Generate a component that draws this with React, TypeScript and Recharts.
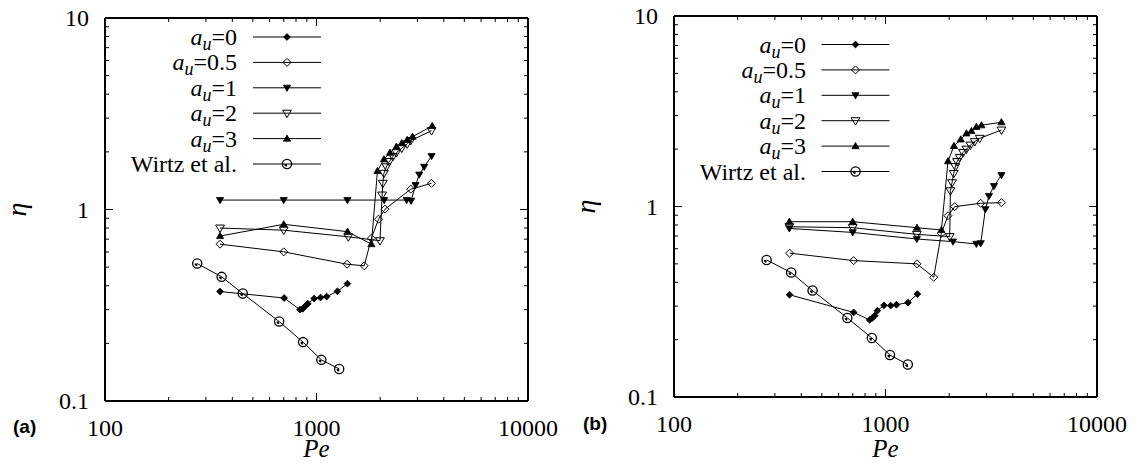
import React from 'react';
import { LineChart, Line, XAxis, YAxis, Legend } from 'recharts';

const SERIF = '"Liberation Serif", "Times New Roman", serif';
const SANS = '"Liberation Sans", Arial, sans-serif';

// ---- ticks ----
const X_TICKS = [100, 200, 300, 400, 500, 600, 700, 800, 900, 1000, 2000, 3000, 4000, 5000, 6000, 7000, 8000, 9000, 10000];
const Y_TICKS = [0.1, 0.2, 0.3, 0.4, 0.5, 0.6, 0.7, 0.8, 0.9, 1, 2, 3, 4, 5, 6, 7, 8, 9, 10];
const X_MAJOR = [100, 1000, 10000];
const X_MAJOR_LABELS = ['100', '1000', '10000'];
const Y_MAJOR = [0.1, 1, 10];
const Y_MAJOR_LABELS = ['0.1', '1', '10'];

// ---- series names ----
const NAMES = ['a_u=0', 'a_u=0.5', 'a_u=1', 'a_u=2', 'a_u=3', 'Wirtz et al.'];
const KINDS = ['dfill', 'dopen', 'tdown', 'tdownopen', 'tup', 'circ'];

// ---- panel (a) data ----
const A_AU0_PE = [350, 703, 835, 860, 885, 910, 975, 1045, 1117, 1256, 1400];
const A_AU0_ETA = [0.373, 0.345, 0.3, 0.303, 0.313, 0.322, 0.343, 0.347, 0.351, 0.374, 0.41];
const A_AU05_PE = [350, 700, 1395, 1682, 1818, 1965, 2108, 2790, 3496];
const A_AU05_ETA = [0.659, 0.601, 0.518, 0.508, 0.708, 0.89, 1.004, 1.277, 1.37];
const A_AU1_PE = [350, 700, 1400, 2090, 2670, 2800, 2940, 3060, 3230, 3500];
const A_AU1_ETA = [1.12, 1.12, 1.12, 1.12, 1.12, 1.11, 1.34, 1.52, 1.67, 1.9];
const A_AU2_PE = [350, 700, 1414, 1996, 2043, 2059, 2084, 2141, 2209, 2296, 2387, 2531, 2684, 2789, 3498];
const A_AU2_ETA = [0.8, 0.78, 0.72, 0.687, 1.19, 1.37, 1.545, 1.67, 1.78, 1.89, 1.98, 2.09, 2.2, 2.29, 2.58];
const A_AU3_PE = [350, 700, 1402, 1818, 1942, 2084, 2226, 2387, 2531, 2684, 2844, 3524];
const A_AU3_ETA = [0.727, 0.837, 0.766, 0.66, 1.59, 1.83, 1.98, 2.13, 2.22, 2.31, 2.4, 2.73];
const A_WIRTZ_PE = [273, 356, 448, 666, 864, 1054, 1280];
const A_WIRTZ_ETA = [0.522, 0.445, 0.364, 0.26, 0.203, 0.164, 0.147];

// ---- panel (b) data ----
const B_AU0_PE = [352, 707, 842, 867, 889, 915, 984, 1058, 1126, 1278, 1415];
const B_AU0_ETA = [0.344, 0.278, 0.254, 0.26, 0.267, 0.284, 0.303, 0.302, 0.305, 0.313, 0.347];
const B_AU05_PE = [352, 707, 1409, 1690, 1837, 1975, 2124, 2818, 3532];
const B_AU05_ETA = [0.569, 0.52, 0.5, 0.425, 0.723, 0.895, 0.998, 1.04, 1.047];
const B_AU1_PE = [351, 700, 1407, 2085, 2690, 2820, 2967, 3085, 3258, 3532];
const B_AU1_ETA = [0.767, 0.731, 0.675, 0.654, 0.636, 0.641, 0.967, 1.135, 1.28, 1.46];
const B_AU2_PE = [351, 700, 1407, 2012, 2027, 2063, 2101, 2139, 2178, 2244, 2326, 2413, 2520, 2641, 2789, 3532];
const B_AU2_ETA = [0.783, 0.774, 0.714, 0.695, 1.21, 1.333, 1.49, 1.62, 1.72, 1.81, 1.92, 2.0, 2.1, 2.19, 2.28, 2.52];
const B_AU3_PE = [351, 700, 1409, 1838, 1975, 2108, 2268, 2413, 2547, 2690, 2841, 3532];
const B_AU3_ETA = [0.832, 0.832, 0.774, 0.753, 1.73, 2.08, 2.25, 2.42, 2.49, 2.62, 2.67, 2.77];
const B_WIRTZ_PE = [274, 358, 452, 660, 862, 1050, 1275];
const B_WIRTZ_ETA = [0.524, 0.45, 0.362, 0.26, 0.204, 0.166, 0.148];

type Pt = { pe: number; eta: number };
const zip = (pe: number[], eta: number[]): Pt[] => pe.map((p, i) => ({ pe: p, eta: eta[i] }));

const A_SERIES = [
  zip(A_AU0_PE, A_AU0_ETA),
  zip(A_AU05_PE, A_AU05_ETA),
  zip(A_AU1_PE, A_AU1_ETA),
  zip(A_AU2_PE, A_AU2_ETA),
  zip(A_AU3_PE, A_AU3_ETA),
  zip(A_WIRTZ_PE, A_WIRTZ_ETA),
];
const B_SERIES = [
  zip(B_AU0_PE, B_AU0_ETA),
  zip(B_AU05_PE, B_AU05_ETA),
  zip(B_AU1_PE, B_AU1_ETA),
  zip(B_AU2_PE, B_AU2_ETA),
  zip(B_AU3_PE, B_AU3_ETA),
  zip(B_WIRTZ_PE, B_WIRTZ_ETA),
];

const PANELS = [
  {
    tag: '(a)', left: 0, width: 560,
    margin: { top: 8, right: 22, bottom: 25, left: 45 },
    legendTop: 37, legendStep: 25.4, legendTextX: 237, legendX1: 253, legendX2: 321,
    tagDy: 32, peDy: 56, series: A_SERIES,
  },
  {
    tag: '(b)', left: 570, width: 568,
    margin: { top: 6, right: 31, bottom: 29, left: 44 },
    legendTop: 44.5, legendStep: 25.4, legendTextX: 236, legendX1: 251.5, legendX2: 319.5,
    tagDy: 33, peDy: 60, series: B_SERIES,
  },
];

function Marker({ kind, cx, cy }: { kind: string; cx: number; cy: number }) {
  if (cx == null || cy == null || isNaN(cx) || isNaN(cy)) return null;
  const s = '#000';
  switch (kind) {
    case 'dfill': {
      const h = 3.4;
      return <polygon points={`${cx},${cy - h} ${cx + h},${cy} ${cx},${cy + h} ${cx - h},${cy}`} fill={s} stroke={s} strokeWidth={0.8} />;
    }
    case 'dopen': {
      const h = 4;
      return <polygon points={`${cx},${cy - h} ${cx + h},${cy} ${cx},${cy + h} ${cx - h},${cy}`} fill="none" stroke={s} strokeWidth={1} />;
    }
    case 'tdown': {
      return <polygon points={`${cx - 3.6},${cy - 2.6} ${cx + 3.6},${cy - 2.6} ${cx},${cy + 3.6}`} fill={s} stroke={s} strokeWidth={0.8} />;
    }
    case 'tdownopen': {
      return <polygon points={`${cx - 4.4},${cy - 3} ${cx + 4.4},${cy - 3} ${cx},${cy + 4.4}`} fill="none" stroke={s} strokeWidth={1} />;
    }
    case 'tup': {
      return <polygon points={`${cx - 3.6},${cy + 2.6} ${cx + 3.6},${cy + 2.6} ${cx},${cy - 3.6}`} fill={s} stroke={s} strokeWidth={0.8} />;
    }
    case 'circ': {
      const r = 4.6;
      const r2 = 2.6;
      return (
        <g>
          <circle cx={cx} cy={cy} r={r} fill="none" stroke={s} strokeWidth={1.3} />
          <path d={`M${cx},${cy} L${cx - r2},${cy} A${r2},${r2} 0 0,0 ${cx},${cy + r2} Z`} fill={s} />
        </g>
      );
    }
    default:
      return null;
  }
}

const majorLabel = (v: number, majors: number[], labels: string[]) => {
  const i = majors.findIndex((m) => Math.abs(m - v) / m < 1e-6);
  return i >= 0 ? labels[i] : null;
};

function renderTick(side: 'bottom' | 'top' | 'left' | 'right', props: any) {
  const { x, y, payload } = props;
  const v = payload.value;
  const isX = side === 'bottom' || side === 'top';
  const lab = isX ? majorLabel(v, X_MAJOR, X_MAJOR_LABELS) : majorLabel(v, Y_MAJOR, Y_MAJOR_LABELS);
  const len = lab != null ? 8 : 4;
  let line;
  if (side === 'bottom') line = <line x1={x} x2={x} y1={y} y2={y - len} stroke="#000" strokeWidth={1} />;
  else if (side === 'top') line = <line x1={x} x2={x} y1={y} y2={y + len} stroke="#000" strokeWidth={1} />;
  else if (side === 'left') line = <line x1={x} x2={x + len} y1={y} y2={y} stroke="#000" strokeWidth={1} />;
  else line = <line x1={x} x2={x - len} y1={y} y2={y} stroke="#000" strokeWidth={1} />;
  let text = null;
  if (lab != null && side === 'bottom') {
    text = <text x={x} y={y + 34.5} textAnchor="middle" fontFamily={SERIF} fontSize={24} fill="#000">{lab}</text>;
  } else if (lab != null && side === 'left') {
    text = <text x={x - 16} y={y + 8} textAnchor="end" fontFamily={SERIF} fontSize={24} fill="#000">{lab}</text>;
  }
  return (
    <g>
      {line}
      {text}
    </g>
  );
}

function SeriesLabel({ name, x, y }: { name: string; x: number; y: number }) {
  if (name.startsWith('a_u=')) {
    const rest = name.slice(3);
    return (
      <text x={x} y={y} textAnchor="end" fontFamily={SERIF} fontSize={24} fill="#000">
        <tspan fontStyle="italic">a</tspan>
        <tspan fontStyle="italic" fontSize={18} dy={5}>u</tspan>
        <tspan dy={-5}>{rest}</tspan>
      </text>
    );
  }
  return (
    <text x={x} y={y} textAnchor="end" fontFamily={SERIF} fontSize={24} fill="#000">{name}</text>
  );
}

function LegendSvg({ payload, cfg }: any) {
  const items = payload || [];
  const ordered = NAMES.map((n) => items.find((e: any) => e.value === n)).filter(Boolean);
  return (
    <svg width={cfg.width} height={466} style={{ position: 'absolute', left: 0, top: 0, overflow: 'visible' }}>
      {ordered.map((entry: any, i: number) => {
        const rowY = cfg.legendTop + i * cfg.legendStep;
        const idx = NAMES.indexOf(entry.value);
        const kind = KINDS[idx >= 0 ? idx : i];
        const mid = (cfg.legendX1 + cfg.legendX2) / 2;
        return (
          <g key={`leg-${i}`}>
            <SeriesLabel name={entry.value} x={cfg.legendTextX} y={rowY + 8} />
            <line x1={cfg.legendX1} x2={cfg.legendX2} y1={rowY} y2={rowY} stroke="#000" strokeWidth={1} />
            <Marker kind={kind} cx={mid} cy={rowY} />
          </g>
        );
      })}
    </svg>
  );
}

function Panel({ cfg }: any) {
  const axisLine = { stroke: '#000', strokeWidth: 2 };
  return (
    <div style={{ position: 'absolute', left: cfg.left, top: 0, width: cfg.width, height: 466 }}>
      <LineChart width={cfg.width} height={466} margin={cfg.margin}>
        <XAxis
          type="number" dataKey="pe" scale="log" domain={[100, 10000]} allowDataOverflow
          ticks={X_TICKS} interval={0} tickSize={0} tickMargin={0} tickLine={false}
          axisLine={axisLine} height={40}
          tick={(p: any) => renderTick('bottom', p)}
          label={(p: any) => {
            const vb = p.viewBox;
            return (
              <g>
                <text x={vb.x + vb.width / 2} y={vb.y + cfg.peDy} textAnchor="middle" fontFamily={SERIF} fontStyle="italic" fontSize={25} fill="#000">Pe</text>
                <text x={13} y={vb.y + cfg.tagDy} textAnchor="start" fontFamily={SANS} fontWeight="bold" fontSize={19} fill="#000">{cfg.tag}</text>
              </g>
            );
          }}
        />
        <XAxis
          xAxisId="top" orientation="top" type="number" dataKey="pe" scale="log" domain={[100, 10000]} allowDataOverflow
          ticks={X_TICKS} interval={0} tickSize={0} tickMargin={0} tickLine={false}
          axisLine={axisLine} height={10}
          tick={(p: any) => renderTick('top', p)}
        />
        <YAxis
          type="number" dataKey="eta" scale="log" domain={[0.1, 10]} allowDataOverflow
          ticks={Y_TICKS} interval={0} tickSize={0} tickMargin={0} tickLine={false}
          axisLine={axisLine} width={60}
          tick={(p: any) => renderTick('left', p)}
          label={(p: any) => {
            const vb = p.viewBox;
            const cx = vb.x + vb.width - 79;
            const cy = vb.y + vb.height / 2;
            return (
              <text x={cx} y={cy} transform={`rotate(-90 ${cx} ${cy})`} textAnchor="middle" fontFamily={SERIF} fontStyle="italic" fontSize={28} fill="#000">η</text>
            );
          }}
        />
        <YAxis
          yAxisId="right" orientation="right" type="number" dataKey="eta" scale="log" domain={[0.1, 10]} allowDataOverflow
          ticks={Y_TICKS} interval={0} tickSize={0} tickMargin={0} tickLine={false}
          axisLine={axisLine} width={10}
          tick={(p: any) => renderTick('right', p)}
        />
        <Legend
          layout="vertical" align="center" verticalAlign="middle"
          wrapperStyle={{ position: 'absolute', left: 0, top: 0, width: cfg.width, height: 466, pointerEvents: 'none' }}
          content={(p: any) => <LegendSvg payload={p.payload} cfg={cfg} />}
        />
        {cfg.series.map((data: Pt[], i: number) => (
          <Line
            key={NAMES[i]}
            name={NAMES[i]}
            data={data}
            dataKey="eta"
            type="linear"
            stroke="#000"
            strokeWidth={1}
            isAnimationActive={false}
            activeDot={false}
            dot={(p: any) => <Marker key={`m-${i}-${p.index}`} kind={KINDS[i]} cx={p.cx} cy={p.cy} />}
          />
        ))}
      </LineChart>
    </div>
  );
}

export default function App() {
  return (
    <div style={{ position: 'absolute', left: 0, top: 0, width: 1138, height: 466, background: '#fff' }}>
      {PANELS.map((cfg) => (
        <Panel key={cfg.tag} cfg={cfg} />
      ))}
    </div>
  );
}
